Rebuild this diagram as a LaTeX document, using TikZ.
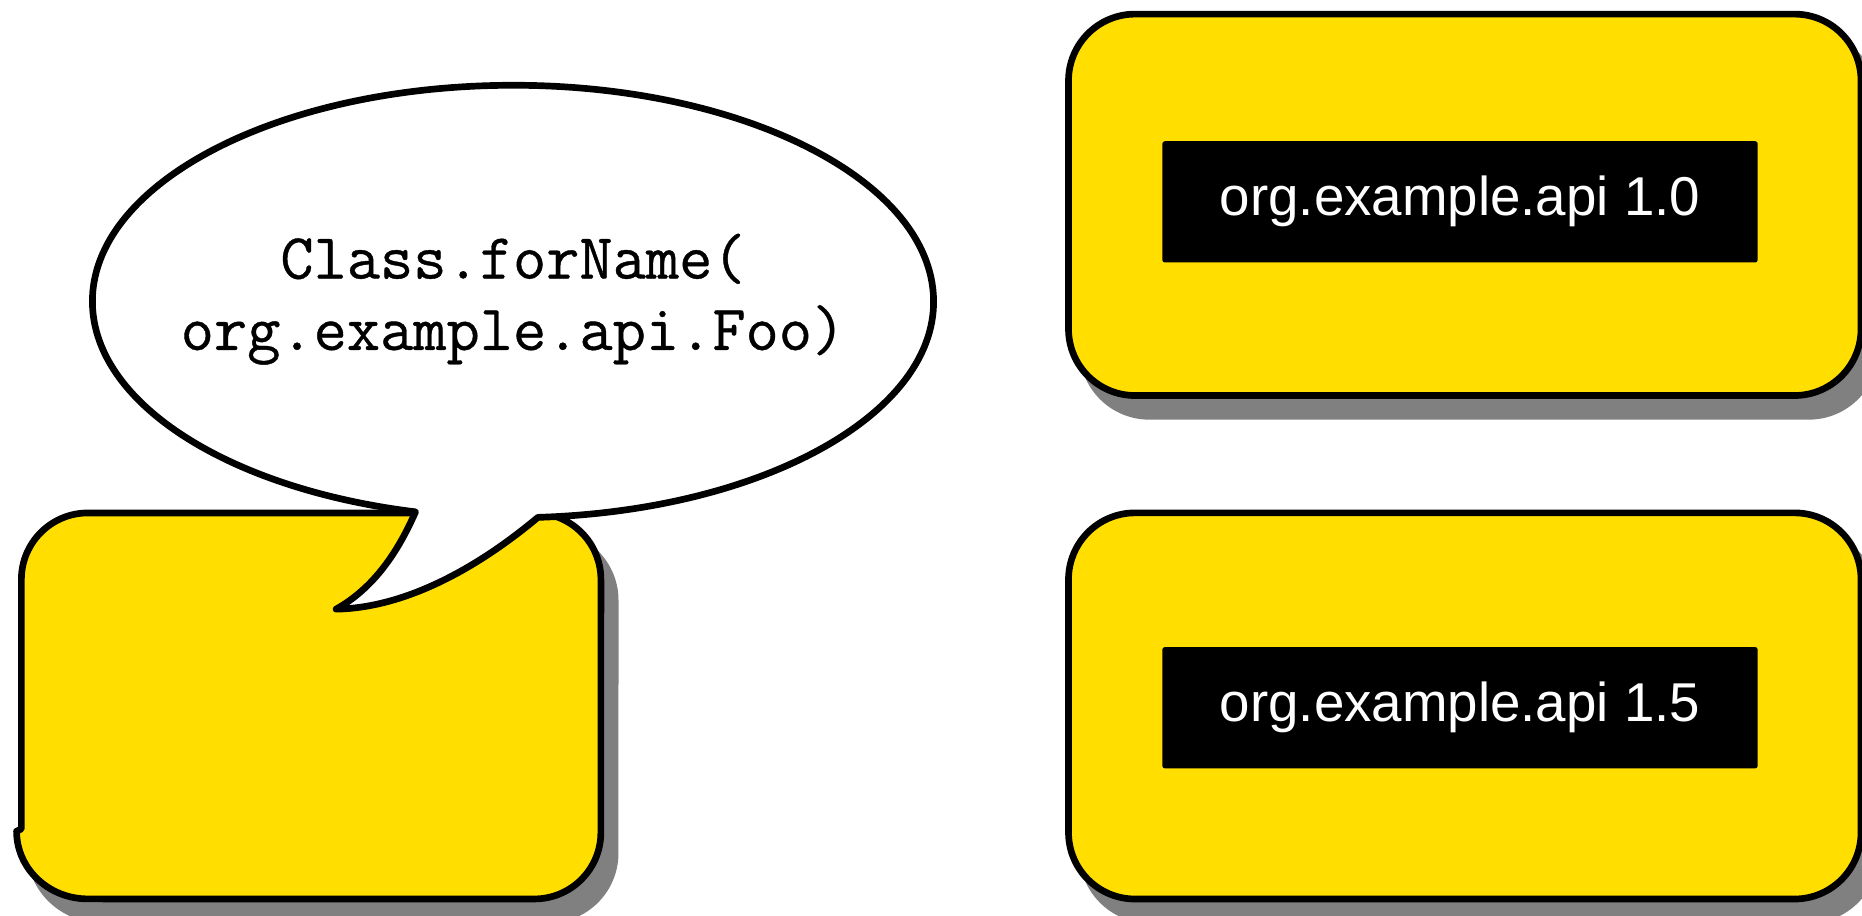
\documentclass[tikz,border=0pt]{standalone}
\usepackage{fontspec}
\newfontfamily\labelfont{Liberation Sans}
\newfontfamily\codefont[FakeBold=0.6]{Latin Modern Mono}
\definecolor{boxyellow}{RGB}{255,222,0}
\definecolor{shadowgray}{RGB}{128,128,128}

\tikzset{
  outline/.style={line width=1.6pt, draw=black, line join=round},
  dropshadow/.style={
    preaction={draw=shadowgray, fill=shadowgray, line width=1.6pt,
      transform canvas={xshift=0.12cm, yshift=-0.175cm}}},
  bundlebox/.style={outline, dropshadow, fill=boxyellow, rounded corners=0.56cm,
    minimum width=6.67cm, inner sep=0pt},
  apilabel/.style={fill=black, text=white, rounded corners=0.02cm, inner sep=0pt,
    minimum width=5.01cm, minimum height=1.02cm,
    font=\labelfont\fontsize{13.1}{15}\selectfont},
  codetext/.style={align=center, inner sep=0pt,
    font=\codefont\fontsize{15.45}{17.1}\selectfont},
}

\begin{document}
\begin{tikzpicture}[x=0.01cm, y=0.01cm]
\useasboundingbox (0,0) rectangle (1568,771);

% the two api bundles on the right
\node[bundlebox, minimum height=3.21cm] (bundleA) at (1233.5,598.5) {};
\node[apilabel] (apiA) at (1229.5,601) {org.example.api 1.0};

\node[bundlebox, minimum height=3.25cm] (bundleB) at (1233.5,176.5) {};
\node[apilabel] (apiB) at (1229.5,175) {org.example.api 1.5};

% the calling bundle on the left
\draw[outline, dropshadow, fill=boxyellow]
  (74,339) -- (450,339) arc[start angle=90, end angle=0, radius=0.56cm]
  -- (506,70) arc[start angle=0, end angle=-90, radius=0.56cm]
  -- (74,14) arc[start angle=270, end angle=180, x radius=0.60cm, y radius=0.57cm]
  -- (14,71) -- (18,73) -- (18,283) arc[start angle=180, end angle=90, radius=0.56cm]
  -- cycle;

% speech bubble coming out of the calling bundle
\draw[outline, fill=white]
  (453,335.3) arc[start angle=-86.6, end angle=256.6, x radius=3.54cm, y radius=1.82cm]
  .. controls (335,306) and (315,276) .. (283,258)
  .. controls (340,259) and (400,291) .. (453,335.3) -- cycle;
\node[codetext] (call) at (432,519) {Class.forName(\\org.example.api.Foo)};
\end{tikzpicture}
\end{document}
